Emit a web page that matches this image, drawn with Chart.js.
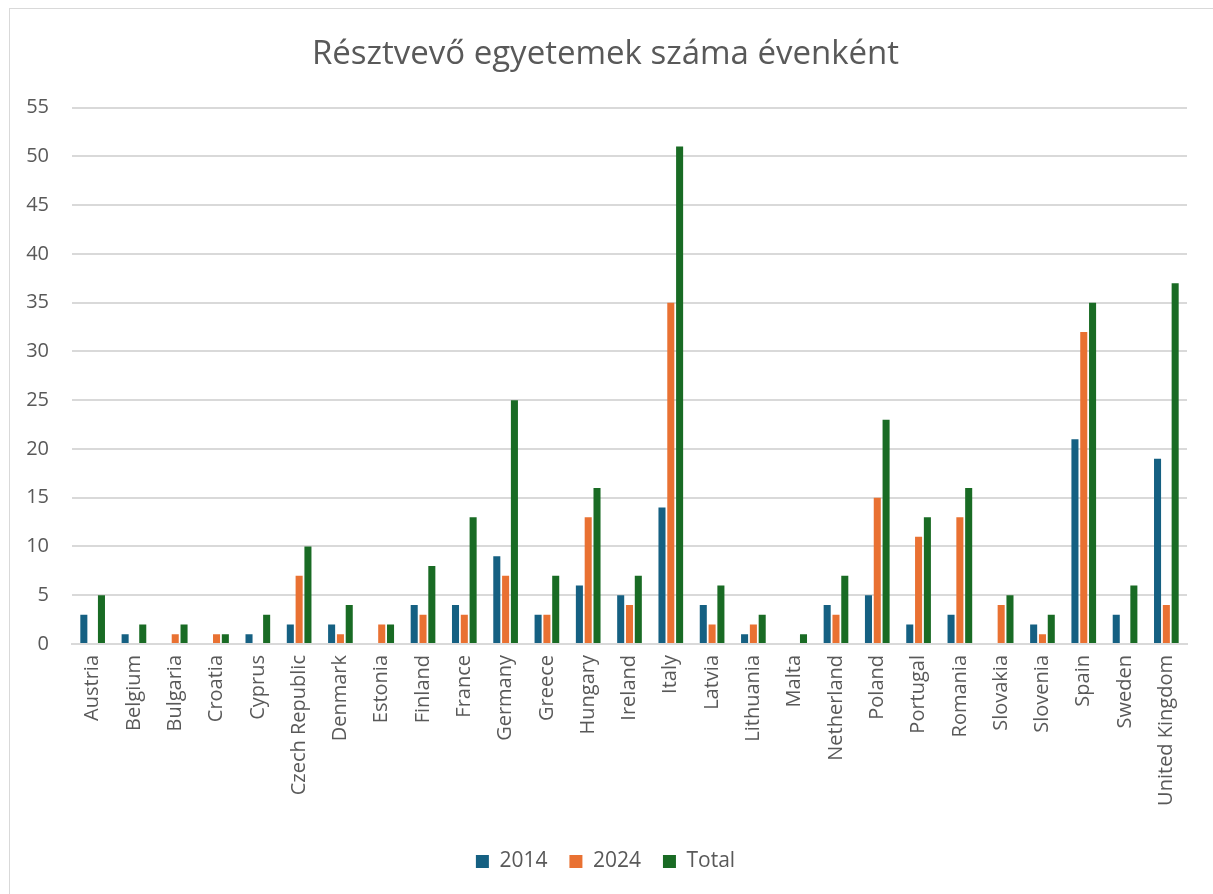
<!DOCTYPE html>
<html>
<head>
<meta charset="utf-8">
<script src="https://cdn.jsdelivr.net/npm/chart.js@4"></script>
<style>
  body { margin: 0; background: #fff; }
  #wrap { position: absolute; left: 9px; top: 8px; width: 1212px; height: 894px; border: 1px solid #d9d9d9; box-sizing: border-box; }
</style>
</head>
<body>
<div id="wrap"><canvas id="myChart"></canvas></div>
<script>
  const orszagok = [
    'Austria', 'Belgium', 'Bulgaria', 'Croatia', 'Cyprus', 'Czech Republic',
    'Denmark', 'Estonia', 'Finland', 'France', 'Germany', 'Greece', 'Hungary',
    'Ireland', 'Italy', 'Latvia', 'Lithuania', 'Malta', 'Netherland', 'Poland',
    'Portugal', 'Romania', 'Slovakia', 'Slovenia', 'Spain', 'Sweden', 'United Kingdom'
  ];

  const ev2014 = [3, 1, 0, 0, 1, 2, 2, 0, 4, 4, 9, 3, 6, 5, 14, 4, 1, 0, 4, 5, 2, 3, 0, 2, 21, 3, 19];
  const ev2024 = [0, 0, 1, 1, 0, 7, 1, 2, 3, 3, 7, 3, 13, 4, 35, 2, 2, 0, 3, 15, 11, 13, 4, 1, 32, 0, 4];
  const osszes = [5, 2, 2, 1, 3, 10, 4, 2, 8, 13, 25, 7, 16, 7, 51, 6, 3, 1, 7, 23, 13, 16, 5, 3, 35, 6, 37];

  const yTicks = [0, 55, 5]; // min, max, lépés

  const szoveg = '#595959';
  const racs = '#d9d9d9';

  const dataEgy = {
    labels: orszagok,
    datasets: [{
      label: '2014',
      data: ev2014,
      backgroundColor: '#156082'
    }, {
      label: '2024',
      data: ev2024,
      backgroundColor: '#E97132'
    }, {
      label: 'Total',
      data: osszes,
      backgroundColor: '#196B24'
    }]
  };

  const configEgy = {
    type: 'bar',
    data: dataEgy,
    options: {
      responsive: true,
      maintainAspectRatio: false,
      animation: false,
      layout: { padding: { left: 14, right: 33, top: 8, bottom: 19 } },
      datasets: {
        bar: { categoryPercentage: 0.64, barPercentage: 0.8 }
      },
      plugins: {
        title: {
          display: true,
          text: 'Résztvevő egyetemek száma évenként',
          color: szoveg,
          font: { family: 'Open Sans', size: 33, weight: 'normal' },
          padding: { top: 18, bottom: 33 }
        },
        legend: {
          display: true,
          position: 'bottom',
          labels: {
            color: szoveg,
            boxWidth: 13,
            boxHeight: 13,
            padding: 22,
            font: { family: 'Open Sans', size: 21 }
          }
        },
        tooltip: { enabled: false }
      },
      scales: {
        x: {
          grid: { display: false, drawTicks: false },
          border: { color: racs, width: 2 },
          afterFit: function(s) { s.height = 185; },
          ticks: {
            color: szoveg,
            minRotation: 90,
            maxRotation: 90,
            autoSkip: false,
            padding: 11,
            font: { family: 'Open Sans', size: 20 }
          }
        },
        y: {
          min: yTicks[0],
          max: yTicks[1],
          grid: { color: racs, lineWidth: 2, drawTicks: false },
          border: { display: false },
          afterFit: function(s) { s.width = 48; },
          ticks: {
            stepSize: yTicks[2],
            color: szoveg,
            padding: 23,
            font: { family: 'Open Sans', size: 20 }
          }
        }
      }
    }
  };

  const myChart = new Chart(
    document.getElementById('myChart'),
    configEgy
  );
</script>
</body>
</html>
